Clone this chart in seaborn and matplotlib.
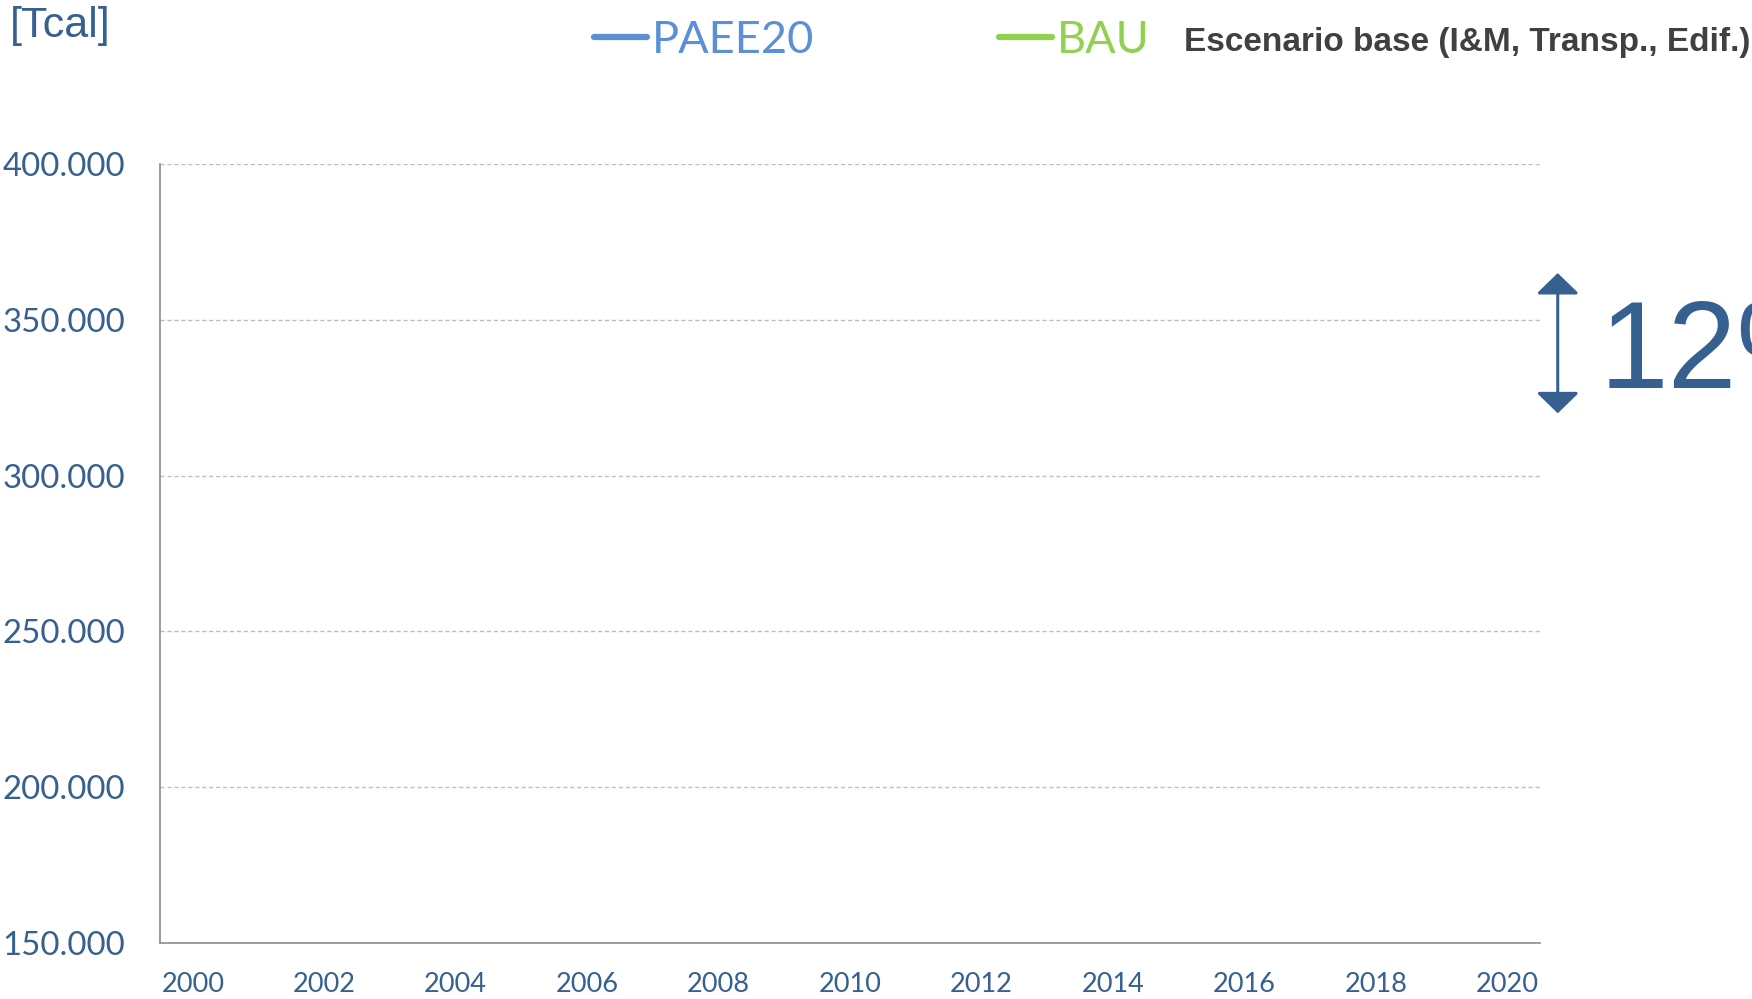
import matplotlib
matplotlib.use("Agg")
import matplotlib.pyplot as plt
import seaborn as sns

# datos del grafico (las series vienen vacias en la figura original)
years = list(range(2000, 2021))
x_ticks = list(range(2000, 2021, 2))
y_ticks = [150000, 200000, 250000, 300000, 350000, 400000]
y_tick_labels = ["150.000", "200.000", "250.000", "300.000", "350.000", "400.000"]
paee20 = []
bau = []
series_names = ["PAEE20", "BAU"]
series_colors = ["#5B8FD6", "#92D050"]
arrow_top = 365000
arrow_bottom = 320000
pct_label = "12%"

blue = "#36608F"

sns.set_theme(style="white")
plt.rcParams["font.family"] = ["Lato", "DejaVu Sans"]

fig, ax = plt.subplots(figsize=(17.52, 9.99), dpi=100)
fig.subplots_adjust(left=160 / 1752, right=1540 / 1752, top=1 - 164 / 999, bottom=1 - 943 / 999)

handles = []
for name, vals, col in zip(series_names, [paee20, bau], series_colors):
    h, = ax.plot(years[:len(vals)], vals, color=col, lw=4.5, solid_capstyle="round", label=name)
    handles.append(h)

ax.set_xlim(1999.5, 2020.5)
ax.set_ylim(150000, 400000)
ax.set_xticks(x_ticks)
ax.set_xticklabels([str(x) for x in x_ticks])
ax.set_yticks(y_ticks)
ax.set_yticklabels(y_tick_labels)
ax.tick_params(axis="y", length=0, pad=25, labelsize=23.8, labelcolor=blue)
ax.tick_params(axis="x", length=0, pad=21, labelsize=19.5, labelcolor=blue)
ax.yaxis.grid(True, linestyle=(0, (3, 2)), color="#BFBFBF", lw=1)
ax.xaxis.grid(False)
sns.despine(ax=ax)
for s in ["left", "bottom"]:
    ax.spines[s].set_color("#8C8C8C")
    ax.spines[s].set_linewidth(1.2)

leg = fig.legend(handles=handles, labels=series_names, loc="upper left",
                 bbox_to_anchor=(594 / 1752, 1 - 20 / 999), ncol=2, frameon=False,
                 fontsize=32.5, handlelength=1.18, handletextpad=0.1, columnspacing=4.1,
                 borderpad=0, borderaxespad=0)
for t, c in zip(leg.get_texts(), series_colors):
    t.set_color(c)

fig.text(1184 / 1752, 1 - 42 / 999, "Escenario base (I&M, Transp., Edif.)", ha="left", va="center",
         fontsize=24, fontweight="bold", color="#404040", family=["Liberation Sans", "DejaVu Sans"])
fig.text(10 / 1752, 1 - 6 / 999, "[Tcal]", ha="left", va="top", fontsize=31, color=blue,
         family=["Liberation Sans Narrow", "Liberation Sans", "DejaVu Sans"])

ax.annotate("", xy=(2020.77, arrow_top), xytext=(2020.77, arrow_bottom),
            annotation_clip=False,
            arrowprops=dict(arrowstyle="<|-|>,head_length=0.32,head_width=0.33", mutation_scale=40,
                            color=blue, lw=2.2, shrinkA=0, shrinkB=0))
ax.text(2021.4, (arrow_top + arrow_bottom) / 2 - 4000, pct_label, ha="left", va="center", fontsize=89,
        color=blue, family=["Liberation Sans", "DejaVu Sans"], clip_on=False)

fig.savefig("out.png", dpi=100)
